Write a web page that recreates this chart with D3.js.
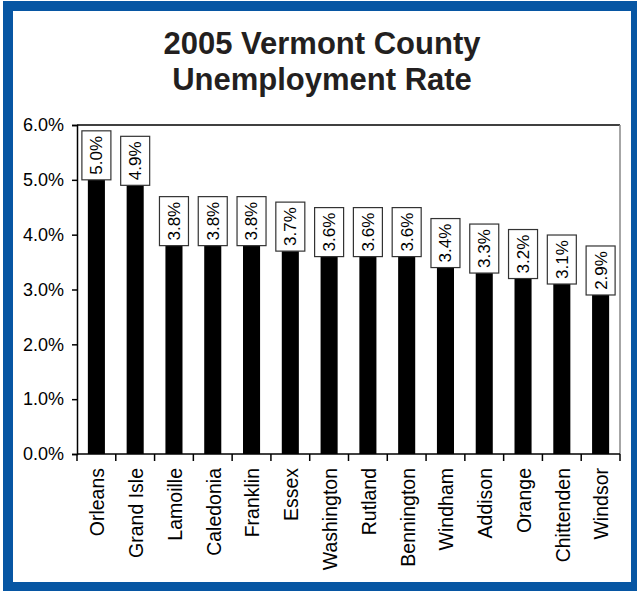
<!DOCTYPE html>
<html lang="en">
<head>
	<meta charset="utf-8">
	<title>2005 Vermont County Unemployment Rate</title>
	<script type="text/javascript" src="https://d3js.org/d3.v7.min.js"></script>
	<style type="text/css">
		body { margin: 0; padding: 0; background: #fff; }
		svg text { font-family: "Liberation Sans", Arial, sans-serif; }
	</style>
</head>
<body>
	<script type="text/javascript">
		//Size of the page
		var w = 637;
		var h = 591;

		//Data
		var counties = ["Orleans", "Grand Isle", "Lamoille", "Caledonia", "Franklin", "Essex", "Washington",
			"Rutland", "Bennington", "Windham", "Addison", "Orange", "Chittenden", "Windsor"];
		var rates = [5.0, 4.9, 3.8, 3.8, 3.8, 3.7, 3.6, 3.6, 3.6, 3.4, 3.3, 3.2, 3.1, 2.9];
		var yTicks = [0, 1, 2, 3, 4, 5, 6];
		var titleLines = ["2005 Vermont County", "Unemployment Rate"];

		//Plot area (named so they don't clash with window.top)
		var plotLeft = 77, plotRight = 620, plotTop = 125, plotBottom = 454;

		var svg = d3.select("body")
			.append("svg")
			.attr("width", w)
			.attr("height", h);

		//Blue frame with white inside
		svg.append("rect")
			.attr("x", 3).attr("y", 1)
			.attr("width", w - 3).attr("height", h - 1)
			.attr("fill", "#0756a3");
		svg.append("rect")
			.attr("x", 13).attr("y", 11)
			.attr("width", 618).attr("height", 571)
			.attr("fill", "#fff");

		//Title
		svg.selectAll("text.title")
			.data(titleLines)
			.enter()
			.append("text")
			.attr("class", "title")
			.attr("x", 322)
			.attr("y", function(d, i) { return 54 + i * 36; })
			.attr("text-anchor", "middle")
			.attr("font-size", "31px")
			.attr("font-weight", "bold")
			.attr("fill", "#231f20")
			.text(function(d) { return d; });

		//Scales: bars sit centred between the tick marks
		var x = d3.scaleBand()
			.domain(counties)
			.range([plotLeft, plotRight])
			.paddingInner(0.56)
			.paddingOuter(0.28);

		var y = d3.scaleLinear()
			.domain([0, 6])
			.range([plotBottom, plotTop]);

		//Top border and grey right border of the plot area
		svg.append("line")
			.attr("x1", plotLeft).attr("x2", plotRight)
			.attr("y1", plotTop).attr("y2", plotTop)
			.attr("stroke", "#000").attr("stroke-width", 1.5);
		svg.append("line")
			.attr("x1", plotRight).attr("x2", plotRight)
			.attr("y1", plotTop).attr("y2", plotBottom)
			.attr("stroke", "#888").attr("stroke-width", 1.5);

		//Bars
		svg.selectAll("rect.bar")
			.data(rates)
			.enter()
			.append("rect")
			.attr("class", "bar")
			.attr("x", function(d, i) { return x(counties[i]); })
			.attr("y", function(d) { return y(d); })
			.attr("width", x.bandwidth())
			.attr("height", function(d) { return plotBottom - y(d); })
			.attr("fill", "#000");

		//Y axis
		var yAxis = svg.append("g")
			.attr("transform", "translate(" + plotLeft + ",0)")
			.call(d3.axisLeft(y)
				.tickValues(yTicks)
				.tickSize(5)
				.tickPadding(8)
				.tickFormat(function(d) { return d.toFixed(1) + "%"; }));
		yAxis.select(".domain").attr("stroke-width", 1.5);
		yAxis.selectAll(".tick line").attr("stroke-width", 1.5);
		yAxis.selectAll(".tick text")
			.attr("font-size", "18px")
			.attr("font-family", "Liberation Sans, Arial, sans-serif")
			.attr("fill", "#000");

		//X axis line and tick marks between categories
		svg.append("line")
			.attr("x1", plotLeft).attr("x2", plotRight)
			.attr("y1", plotBottom).attr("y2", plotBottom)
			.attr("stroke", "#000").attr("stroke-width", 1.5);
		svg.selectAll("line.xtick")
			.data(d3.range(counties.length + 1))
			.enter()
			.append("line")
			.attr("class", "xtick")
			.attr("x1", function(i) { return plotLeft + i * x.step(); })
			.attr("x2", function(i) { return plotLeft + i * x.step(); })
			.attr("y1", plotBottom).attr("y2", plotBottom + 7)
			.attr("stroke", "#000").attr("stroke-width", 1.5);

		//County names, rotated
		svg.selectAll("text.county")
			.data(counties)
			.enter()
			.append("text")
			.attr("class", "county")
			.attr("transform", function(d) {
				return "translate(" + (x(d) + x.bandwidth() / 2 + 1) + "," + (plotBottom + 14) + ") rotate(-90)";
			})
			.attr("dy", "0.35em")
			.attr("text-anchor", "end")
			.attr("font-size", "19.5px")
			.attr("fill", "#000")
			.text(function(d) { return d; });

		//Value boxes above the bars
		var boxW = 29, boxH = 49;
		svg.selectAll("rect.box")
			.data(rates)
			.enter()
			.append("rect")
			.attr("class", "box")
			.attr("x", function(d, i) { return x(counties[i]) + x.bandwidth() / 2 - boxW / 2; })
			.attr("y", function(d) { return y(d) - boxH; })
			.attr("width", boxW)
			.attr("height", boxH)
			.attr("fill", "#fff")
			.attr("stroke", "#333")
			.attr("stroke-width", 1.2);

		svg.selectAll("text.value")
			.data(rates)
			.enter()
			.append("text")
			.attr("class", "value")
			.attr("transform", function(d, i) {
				return "translate(" + (x(counties[i]) + x.bandwidth() / 2) + "," + (y(d) - boxH / 2) + ") rotate(-90)";
			})
			.attr("dy", "0.35em")
			.attr("text-anchor", "middle")
			.attr("font-size", "17px")
			.attr("fill", "#000")
			.text(function(d) { return d.toFixed(1) + "%"; });
	</script>
</body>
</html>
